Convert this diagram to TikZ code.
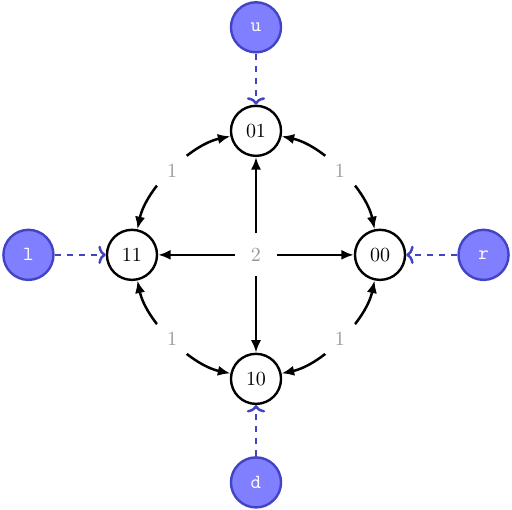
\documentclass[tikz,border=0pt]{standalone}
\usepackage{tikz}
\usetikzlibrary{positioning,arrows.meta}
\definecolor{ctrlfill}{HTML}{7F7FFF}
\definecolor{ctrlline}{HTML}{4343C6}
\definecolor{wlabel}{HTML}{999999}
\tikzset{
  statenode/.style={circle, draw=black, line width=1.2pt, fill=white, minimum size=0.88cm, inner sep=0pt},
  inputnode/.style={circle, draw=ctrlline, fill=ctrlfill, line width=1.2pt, minimum size=0.88cm, inner sep=0pt, text=white, font=\ttfamily},
  weight/.style={circle, fill=white, inner sep=4.5pt, text=wlabel},
  transarr/.style={-{Latex[length=2.2mm,width=1.8mm]}, line width=1.25pt},
  twoway/.style={{Latex[length=2.2mm,width=1.8mm]}-{Latex[length=2.2mm,width=1.8mm]}, line width=1.25pt, looseness=0.8},
  inputarr/.style={-{To[width=3.2mm,length=1.3mm]}, line width=1.25pt, dashed, draw=ctrlline}
}
\begin{document}
\begin{tikzpicture}[node distance=1.82cm, on grid]
\useasboundingbox (-4.5,-4.48) rectangle (4.5,4.48);
% weight of the straight moves
\node[weight] (mid) at (0,0) {2};
% the four states
\node[statenode] (n01) at (0,2.18) {01};
\node[statenode] (n11) at (-2.18,0) {11};
\node[statenode] (n00) at (2.18,0) {00};
\node[statenode] (n10) at (0,-2.18) {10};
% inputs
\node[inputnode, above=of n01] (u) {u};
\node[inputnode, left=of n11] (l) {l};
\node[inputnode, right=of n00] (r) {r};
\node[inputnode, below=of n10] (d) {d};
\draw[inputarr] (u) -- (n01);
\draw[inputarr] (l) -- (n11);
\draw[inputarr] (r) -- (n00);
\draw[inputarr] (d) -- (n10);
% transitions
\draw[transarr] (mid) -- (n01);
\draw[transarr] (mid) -- (n11);
\draw[transarr] (mid) -- (n00);
\draw[transarr] (mid) -- (n10);
\draw[twoway] (n01) to[bend right=33] node[weight] {1} (n11);
\draw[twoway] (n11) to[bend right=33] node[weight] {1} (n10);
\draw[twoway] (n10) to[bend right=33] node[weight] {1} (n00);
\draw[twoway] (n00) to[bend right=33] node[weight] {1} (n01);
\end{tikzpicture}
\end{document}
